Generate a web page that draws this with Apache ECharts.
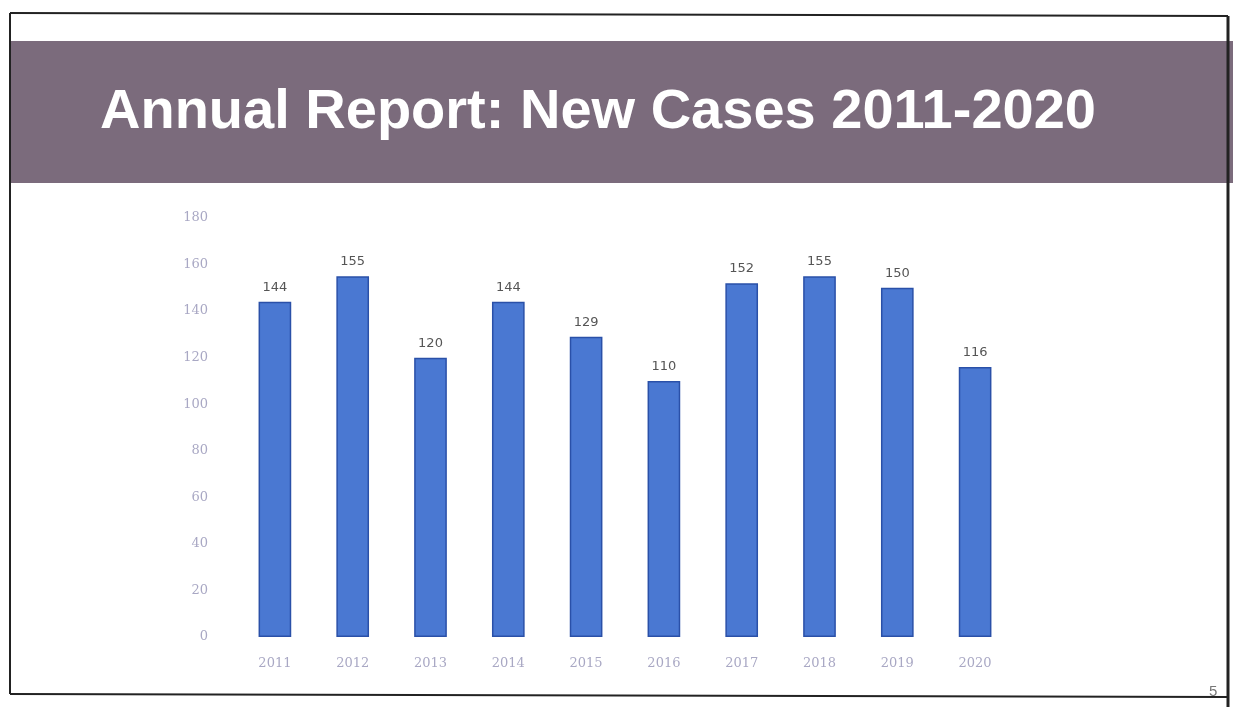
<!DOCTYPE html>
<html>
<head>
<meta charset="utf-8">
<script src="https://cdn.jsdelivr.net/npm/echarts@6/dist/echarts.min.js"></script>
<style>html,body{margin:0;padding:0;background:#fff;}#c{width:1233px;height:707px;}</style>
</head>
<body>
<div id="c"></div>
<script>
const years = ['2011','2012','2013','2014','2015','2016','2017','2018','2019','2020'];
const newCases = [144,155,120,144,129,110,152,155,150,116];
const titleText = 'Annual Report: New Cases 2011-2020';
const pageNumber = '5';

const chart = echarts.init(document.getElementById('c'));
chart.setOption({
  backgroundColor: '#ffffff',
  animation: false,
  graphic: [
    { type: 'rect', shape: { x: 10, y: 41, width: 1223, height: 142 }, style: { fill: '#7b6b7c' }, z: 0 },
    { type: 'text', left: 100, top: 85, style: { text: titleText, fill: '#ffffff', font: 'bold 56px "Liberation Sans", Arial, sans-serif', shadowColor: 'rgba(20,10,20,0.9)', shadowBlur: 4, shadowOffsetX: 2, shadowOffsetY: 2 }, z: 2 },
    { type: 'line', shape: { x1: 10, y1: 13, x2: 1228, y2: 16 }, style: { stroke: '#222', lineWidth: 2 }, z: 3 },
    { type: 'line', shape: { x1: 10, y1: 13, x2: 10, y2: 694 }, style: { stroke: '#222', lineWidth: 2 }, z: 3 },
    { type: 'line', shape: { x1: 10, y1: 694, x2: 1228, y2: 697 }, style: { stroke: '#222', lineWidth: 2 }, z: 3 },
    { type: 'line', shape: { x1: 1228, y1: 16, x2: 1228, y2: 707 }, style: { stroke: '#222', lineWidth: 3 }, z: 3 },
    { type: 'text', left: 1209, top: 684, style: { text: pageNumber, fill: '#777', font: '15px "Liberation Sans", Arial, sans-serif' }, z: 3 }
  ],
  grid: { left: 236, right: 219, top: 218, bottom: 70 },
  xAxis: {
    type: 'category',
    data: years,
    axisLine: { show: false },
    axisTick: { show: false },
    axisLabel: { color: '#a9a8c4', fontSize: 13, margin: 20, fontFamily: '"DejaVu Serif", serif' }
  },
  yAxis: {
    type: 'value',
    min: 0, max: 180, interval: 20,
    splitLine: { show: false },
    axisLine: { show: false },
    axisTick: { show: false },
    axisLabel: { color: '#a9a8c4', fontSize: 13, margin: 28, fontFamily: '"DejaVu Serif", serif' }
  },
  series: [{
    type: 'bar',
    data: newCases,
    barWidth: '42%',
    itemStyle: { color: '#4a78d2', borderColor: '#2a50a8', borderWidth: 1.5 },
    label: { show: true, position: 'top', distance: 8, color: '#555', fontSize: 13, fontFamily: '"DejaVu Sans", sans-serif' }
  }]
});
</script>
</body>
</html>
